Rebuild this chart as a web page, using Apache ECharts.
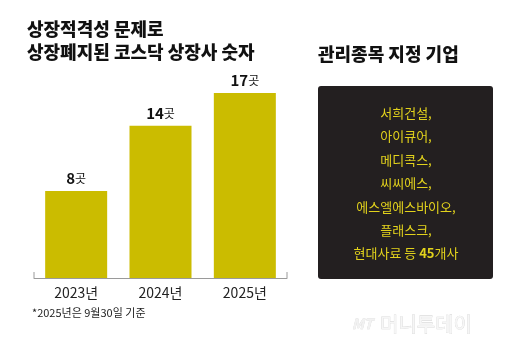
<!DOCTYPE html>
<html>
<head>
<meta charset="utf-8">
<script src="https://cdn.jsdelivr.net/npm/echarts@6/dist/echarts.min.js"></script>
<style>
  html, body { margin: 0; padding: 0; background: #fff; }
  #chart { width: 520px; height: 354px; }
</style>
</head>
<body>
<div id="chart"></div>
<script>
// 상장적격성 문제로 상장폐지된 코스닥 상장사 숫자
const years = ['2023년', '2024년', '2025년']
const counts = [8, 14, 17]
const unit = '곳'
// 관리종목 지정 기업
const companies = ['서희건설,', '아이큐어,', '메디콕스,', '씨씨에스,', '에스엘에스바이오,', '플래스크,']
const lastLine = ['현대사료 등 ', '45', '개사']

const FONT = '"Noto Sans CJK KR", "Noto Sans", sans-serif'
const BAR = '#cbbc00'
const YELLOW = '#e2d21c'

const chart = echarts.init(document.getElementById('chart'))

const option = {
    backgroundColor: '#fff',
    animation: false,
    textStyle: { fontFamily: FONT },
    grid: { left: 34, width: 253, top: 60.4, bottom: 76 },
    xAxis: {
        type: 'category',
        data: years,
        axisLine: { lineStyle: { color: '#9a9a9a', width: 1 } },
        axisTick: { show: false },
        axisLabel: { fontSize: 14, color: '#222', margin: 8 },
    },
    yAxis: { type: 'value', min: 0, max: 20, show: false },
    series: [{
        type: 'bar',
        data: counts,
        barWidth: 62,
        itemStyle: { color: BAR },
        label: {
            show: true,
            position: 'top',
            distance: 5,
            formatter: p => `{n|${p.value}}{u|${unit}}`,
            rich: {
                n: { fontSize: 15, fontWeight: 'bold', color: '#111', fontFamily: FONT },
                u: { fontSize: 12, color: '#111', fontFamily: FONT },
            },
        },
    }],
    graphic: [
        { type: 'text', style: { text: '상장적격성 문제로', x: 27, y: 29.5, fill: '#111', font: `900 18px ${FONT}`, verticalAlign: 'middle' } },
        { type: 'text', style: { text: '상장폐지된 코스닥 상장사 숫자', x: 27, y: 52.5, fill: '#111', font: `900 18px ${FONT}`, verticalAlign: 'middle' } },
        { type: 'text', style: { text: '관리종목 지정 기업', x: 318, y: 54, fill: '#111', font: `900 18px ${FONT}`, verticalAlign: 'middle' } },
        { type: 'rect', shape: { x: 318, y: 86, width: 175, height: 193, r: 3 }, style: { fill: '#231f20' } },
        ...companies.map((name, i) => ({
            type: 'text',
            style: { text: name, x: 406, y: 113 + i * 23.4, fill: YELLOW, font: `13px ${FONT}`, align: 'center', verticalAlign: 'middle' },
        })),
        {
            type: 'text',
            style: {
                text: `{a|${lastLine[0]}}{b|${lastLine[1]}}{a|${lastLine[2]}}`,
                x: 406, y: 113 + 6 * 23.4, align: 'center', verticalAlign: 'middle',
                rich: {
                    a: { fontSize: 13, fill: YELLOW, fontFamily: FONT },
                    b: { fontSize: 13, fontWeight: 'bold', fill: YELLOW, fontFamily: FONT },
                },
            },
        },
        // 축 양 끝 눈금
        { type: 'line', shape: { x1: 34, y1: 272, x2: 34, y2: 278 }, style: { stroke: '#9a9a9a', lineWidth: 1 } },
        { type: 'line', shape: { x1: 287, y1: 272, x2: 287, y2: 278 }, style: { stroke: '#9a9a9a', lineWidth: 1 } },
        { type: 'text', style: { text: '*2025년은 9월30일 기준', x: 32, y: 313, fill: '#222', font: `11px ${FONT}`, verticalAlign: 'middle' } },
        // 워터마크
        { type: 'text', style: { text: 'MT', x: 352, y: 324, fill: '#f2f2f2', font: `italic bold 14px ${FONT}`, verticalAlign: 'middle', stroke: '#d6d6d6', lineWidth: 0.5 } },
        { type: 'text', style: { text: '머니투데이', x: 380, y: 324, fill: '#f6f6f6', font: `20px ${FONT}`, verticalAlign: 'middle', stroke: '#d4d4d4', lineWidth: 0.6 } },
    ],
}

chart.setOption(option)
</script>
</body>
</html>
